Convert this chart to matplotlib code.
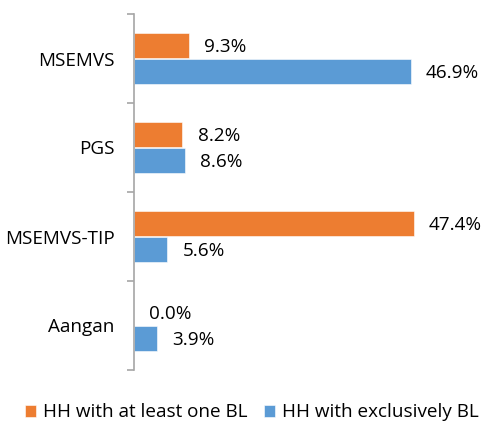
import matplotlib
matplotlib.use("Agg")
import matplotlib.pyplot as plt
import numpy as np

categories = ["MSEMVS", "PGS", "MSEMVS-TIP", "Aangan"]
series_names = ["HH with at least one BL", "HH with exclusively BL"]
at_least_one = [9.3, 8.2, 47.4, 0.0]
exclusively = [46.9, 8.6, 5.6, 3.9]

colors = ["#ED7D31", "#5B9BD5"]

plt.rcParams['font.family'] = ['Open Sans', 'DejaVu Sans']

fig = plt.figure(figsize=(4.82, 4.26), dpi=100)
ax = fig.add_axes([134/482, 1 - 370/426, 295/482, 356/426])

y = np.arange(len(categories))
h = 0.285
b1 = ax.barh(y - h/2, at_least_one, height=h, color=colors[0], edgecolor="white", linewidth=0.4, label=series_names[0])
b2 = ax.barh(y + h/2, exclusively, height=h, color=colors[1], edgecolor="white", linewidth=0.4, label=series_names[1])

fs = 13.6
for bars, vals in ((b1, at_least_one), (b2, exclusively)):
    for rect, v in zip(bars, vals):
        ax.annotate(f"{v:.1f}%", xy=(rect.get_width(), rect.get_y() + rect.get_height()/2),
                    xytext=(11, -1), textcoords="offset points", ha="left", va="center",
                    fontsize=fs, color="#000000", annotation_clip=False)

ax.set_xlim(0, 50)
ax.set_ylim(len(categories) - 0.5, -0.5)
ax.set_yticks(y)
ax.set_yticklabels(categories, fontsize=fs)
ax.set_yticks(np.arange(-0.5, len(categories), 1.0), minor=True)
ax.tick_params(axis="y", which="major", length=0, pad=14)
ax.tick_params(axis="y", which="minor", length=5, width=1.2, color="#a6a6a6", direction="out")
ax.set_xticks([])
for s in ("top", "right", "bottom"):
    ax.spines[s].set_visible(False)
ax.spines["left"].set_color("#a6a6a6")
ax.spines["left"].set_linewidth(1.2)

fig.legend(handles=[b1, b2], labels=series_names, loc="center", bbox_to_anchor=(0.522, 0.032),
           ncol=2, frameon=False, fontsize=fs, handlelength=0.62, handleheight=0.62,
           handletextpad=0.35, columnspacing=0.85, borderpad=0, borderaxespad=0)

fig.savefig("out.png", dpi=100)
